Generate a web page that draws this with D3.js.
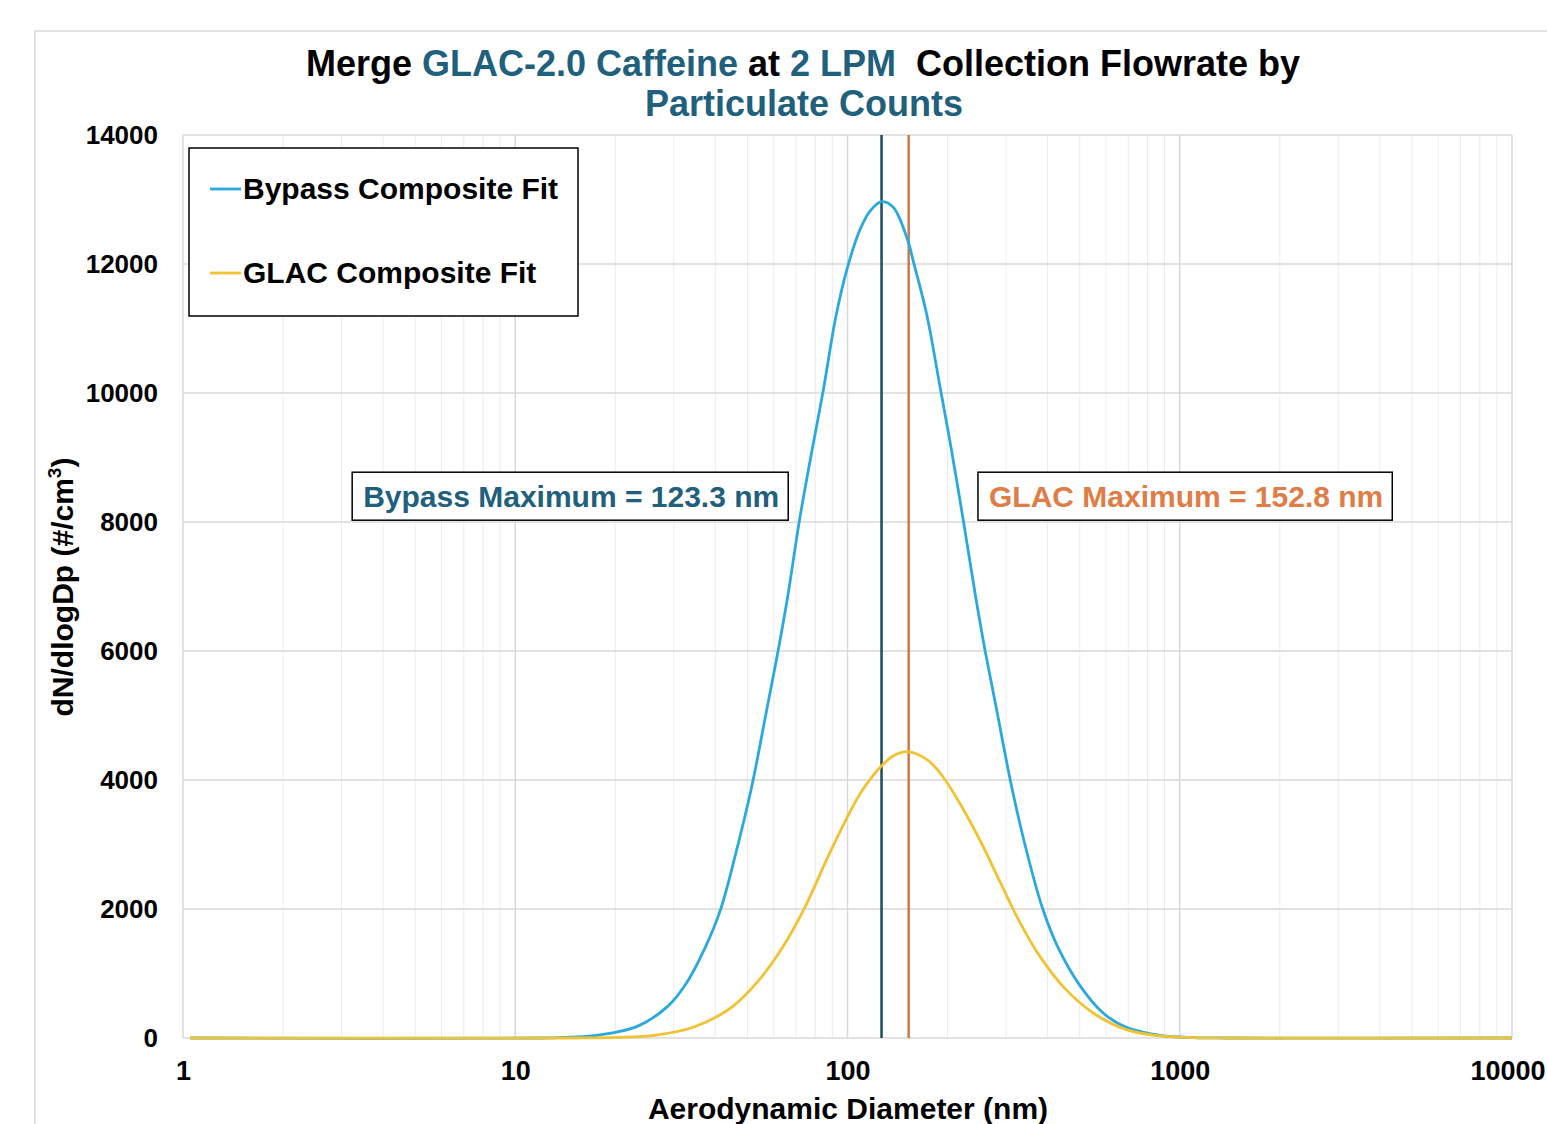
<!DOCTYPE html>
<html>
<head>
  <meta charset="UTF-8">
  <title>Merge GLAC-2.0 Caffeine</title>
  <script src="https://d3js.org/d3.v7.min.js"></script>
  <style>
    body {
      margin: 0;
      background: #fff;
      font-family: "Liberation Sans", Arial, sans-serif;
    }
    text {
      font-weight: bold;
    }
    .grid-minor {
      stroke: #ececec;
      stroke-width: 1;
    }
    .grid-major {
      stroke: #d9d9d9;
      stroke-width: 1.5;
    }
  </style>
</head>
<body>
  <div id="chart"></div>
  <script>
    // diameter (nm) / dN/dlogDp
    const bypassD = [1.05, 12, 14.7, 17.8, 23.2, 28.7, 32.7, 37.4, 41.5, 46.2, 51.4, 57.1, 61.8, 66.1, 71.6, 78, 84.6, 92.3, 99.9, 109.0, 116.9, 126.7, 137.3, 152.4, 157.8, 173.1, 189.8, 205, 223.2, 242.3, 258.8, 280.4, 311.8, 342, 385.3, 428.6, 502.6, 589, 691, 872, 1100, 1400, 10000];
    const bypassV = [0, 0, 12, 44, 176, 486, 845, 1416, 1995, 2880, 3880, 5080, 6000, 6850, 8010, 9080, 10050, 11190, 11940, 12530, 12820, 12966, 12880, 12340, 12040, 11220, 10100, 9150, 8020, 6880, 6040, 5120, 3900, 3000, 2030, 1420, 800, 384, 165, 40, 6, 0, 0];

    const glacD = [1.05, 15, 20.3, 26.5, 34.5, 45.0, 54.2, 63.5, 74.5, 87.3, 98.4, 110.8, 126.5, 138, 151.6, 174, 193.3, 220.8, 252.2, 287.9, 328.5, 375.4, 451.6, 558.7, 690.9, 854, 1100, 1400, 10000];
    const glacV = [0, 0, 10, 45, 170, 484, 900, 1390, 2030, 2808, 3360, 3840, 4218, 4380, 4440, 4312, 4058, 3585, 3035, 2420, 1815, 1300, 765, 360, 130, 38, 6, 0, 0];

    const seriesNames = ["Bypass Composite Fit", "GLAC Composite Fit"];
    const seriesColors = ["#29a9dd", "#f1c232"];

    // vertical marker lines and their labels
    const markerX = [126.6, 152.8];
    const markerColors = ["#1c4b5f", "#c67b4e"];
    const noteText = ["Bypass Maximum = 123.3 nm", "GLAC Maximum = 152.8 nm"];
    const noteColors = ["#1f607d", "#e07c45"];
    const noteX = [3.23, 247]; // left edge of each box (nm)
    const noteY = 8400;

    const xTicks = [1, 10, 100, 1000, 10000];
    const yTicks = [0, 2000, 4000, 6000, 8000, 10000, 12000, 14000];

    const W = 1547, H = 1124;
    const plotL = 183, plotR = 1512, plotT = 135, plotB = 1038;

    const svg = d3.select("#chart").append("svg")
      .attr("width", W)
      .attr("height", H);

    // outer chart frame
    svg.append("path")
      .attr("d", `M35,${H} V31 H${W}`)
      .attr("fill", "none")
      .attr("stroke", "#d9d9d9")
      .attr("stroke-width", 1.5);

    const x = d3.scaleLog().domain([1, 10000]).range([plotL, plotR]);
    const y = d3.scaleLinear().domain([0, 14000]).range([plotB, plotT]);

    // minor vertical grid
    const minor = [];
    for (let e = 0; e < 4; e++) {
      for (let m = 2; m < 10; m++) minor.push(m * Math.pow(10, e));
    }
    svg.append("g").selectAll("line")
      .data(minor)
      .enter().append("line")
      .attr("class", "grid-minor")
      .attr("x1", d => x(d)).attr("x2", d => x(d))
      .attr("y1", plotT).attr("y2", plotB);

    svg.append("g").selectAll("line")
      .data(xTicks)
      .enter().append("line")
      .attr("class", "grid-major")
      .attr("x1", d => x(d)).attr("x2", d => x(d))
      .attr("y1", plotT).attr("y2", plotB);

    svg.append("g").selectAll("line")
      .data(yTicks)
      .enter().append("line")
      .attr("class", "grid-major")
      .attr("x1", plotL).attr("x2", plotR)
      .attr("y1", d => y(d)).attr("y2", d => y(d));

    // axes (labels only, Excel style)
    const yAxis = svg.append("g")
      .attr("transform", `translate(${plotL},0)`)
      .call(d3.axisLeft(y).tickValues(yTicks).tickSize(0).tickPadding(25).tickFormat(d3.format("d")));
    yAxis.select(".domain").remove();
    yAxis.selectAll("text")
      .attr("font-size", 26)
      .attr("font-family", "Liberation Sans, Arial, sans-serif")
      .attr("fill", "#000");

    const xAxis = svg.append("g")
      .attr("transform", `translate(0,${plotB})`)
      .call(d3.axisBottom(x).tickValues(xTicks).tickSize(0).tickPadding(23).tickFormat(d3.format("d")));
    xAxis.select(".domain").remove();
    xAxis.selectAll("text")
      .attr("font-size", 27)
      .attr("font-family", "Liberation Sans, Arial, sans-serif")
      .attr("fill", "#000");
    // keep the last label inside the page
    xAxis.selectAll("text").filter(d => d === 10000)
      .attr("text-anchor", "end")
      .attr("x", W - plotR - 2);

    // marker lines
    svg.append("g").selectAll("line")
      .data(markerX)
      .enter().append("line")
      .attr("x1", d => x(d)).attr("x2", d => x(d))
      .attr("y1", plotT).attr("y2", plotB)
      .attr("stroke", (d, i) => markerColors[i])
      .attr("stroke-width", 2.5);

    // curves
    const line = d3.line()
      .x(d => x(d[0]))
      .y(d => y(d[1]))
      .curve(d3.curveCatmullRom.alpha(0.5));

    const series = [
      d3.zip(bypassD, bypassV),
      d3.zip(glacD, glacV)
    ];
    svg.append("g").selectAll("path")
      .data(series)
      .enter().append("path")
      .attr("d", line)
      .attr("fill", "none")
      .attr("stroke", (d, i) => seriesColors[i])
      .attr("stroke-width", 2.8);

    // annotation boxes
    noteText.forEach((t, i) => {
      const g = svg.append("g");
      const txt = g.append("text")
        .attr("x", x(noteX[i]) + 11)
        .attr("y", y(noteY) + 11)
        .attr("font-size", 30)
        .attr("fill", noteColors[i])
        .text(t);
      const bb = txt.node().getBBox();
      g.insert("rect", "text")
        .attr("x", x(noteX[i]))
        .attr("y", y(noteY) - 24)
        .attr("width", bb.width + 20)
        .attr("height", 48)
        .attr("fill", "#fff")
        .attr("stroke", "#000")
        .attr("stroke-width", 1.5);
    });

    // legend
    const legend = svg.append("g").attr("transform", "translate(189,148)");
    legend.append("rect")
      .attr("width", 389).attr("height", 168)
      .attr("fill", "#fff")
      .attr("stroke", "#000")
      .attr("stroke-width", 1.5);
    seriesNames.forEach((name, i) => {
      const ly = 41 + i * 84;
      legend.append("line")
        .attr("x1", 21).attr("x2", 52)
        .attr("y1", ly).attr("y2", ly)
        .attr("stroke", seriesColors[i])
        .attr("stroke-width", 2.8);
      legend.append("text")
        .attr("x", 54).attr("y", ly + 10)
        .attr("font-size", 30)
        .text(name);
    });

    // title
    const teal = "#1f607d";
    const title = svg.append("text")
      .attr("x", 803).attr("y", 76)
      .attr("text-anchor", "middle")
      .attr("font-size", 36)
      .attr("xml:space", "preserve");
    [["Merge ", "#000"], ["GLAC-2.0 Caffeine", teal], [" at ", "#000"], ["2 LPM", teal], ["  Collection Flowrate by", "#000"]]
      .forEach(p => title.append("tspan").attr("fill", p[1]).text(p[0]));
    svg.append("text")
      .attr("x", 804).attr("y", 116)
      .attr("text-anchor", "middle")
      .attr("font-size", 36)
      .attr("fill", teal)
      .text("Particulate Counts");

    // axis titles
    svg.append("text")
      .attr("x", 848).attr("y", 1119)
      .attr("text-anchor", "middle")
      .attr("font-size", 30)
      .text("Aerodynamic Diameter (nm)");

    const yt = svg.append("text")
      .attr("transform", "translate(73,587) rotate(-90)")
      .attr("text-anchor", "middle")
      .attr("font-size", 30);
    yt.append("tspan").text("dN/dlogDp (#/cm");
    yt.append("tspan").attr("font-size", 19).attr("dy", -12).text("3");
    yt.append("tspan").attr("dy", 12).text(")");
  </script>
</body>
</html>
